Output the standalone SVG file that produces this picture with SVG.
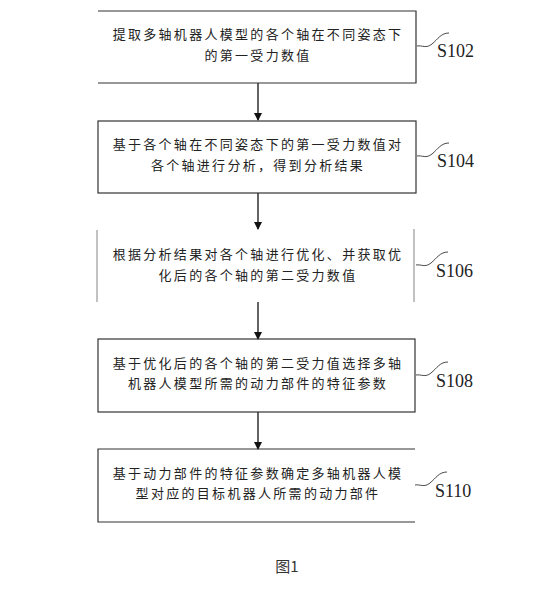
<svg xmlns="http://www.w3.org/2000/svg" width="541" height="609" viewBox="0 0 541 609">
<style>
.b{fill:none;stroke:#333;stroke-width:1.2}
.g{fill:none;stroke:#999;stroke-width:1.2}
.t{font-family:"Noto Sans CJK SC","Noto Sans",sans-serif;font-size:13px;letter-spacing:2.3px;fill:#222;text-anchor:middle}
.l{font-family:"Liberation Serif",serif;font-size:18px;fill:#222}
.w{fill:none;stroke:#333;stroke-width:0.9}
.c{stroke:#111;stroke-width:1.3;fill:none}
</style>
<defs>
<marker id="ah" markerWidth="8" markerHeight="9" refX="7" refY="4.5" orient="auto" markerUnits="userSpaceOnUse">
<path d="M0,0.5 L8,4.5 L0,8.5 Z" fill="#111"/>
</marker>
</defs>
<rect width="541" height="609" fill="#fff"/>
<g id="connectors">
<line class="c" x1="258" y1="83" x2="258" y2="120" marker-end="url(#ah)"/>
<line class="c" x1="258" y1="193" x2="258" y2="229" marker-end="url(#ah)"/>
<line class="c" x1="258" y1="302" x2="258" y2="339" marker-end="url(#ah)"/>
<line class="c" x1="258" y1="412" x2="258" y2="449" marker-end="url(#ah)"/>
</g>
<g id="S102">
<path class="b" d="M98,11 H416 V83 H98"/>
<text class="t" x="258" y="39">提取多轴机器人模型的各个轴在不同姿态下</text>
<text class="t" x="258" y="60">的第一受力数值</text>
<path class="w" d="M417,46 c5,-1 9,3 15,-2 s9,-11 17,-11"/>
<text class="l" x="437" y="57">S102</text>
</g>
<g id="S104">
<rect class="b" x="98" y="121" width="318" height="72"/>
<text class="t" x="258" y="149">基于各个轴在不同姿态下的第一受力数值对</text>
<text class="t" x="258" y="170">各个轴进行分析，得到分析结果</text>
<path class="w" d="M417,156 c5,-1 9,3 15,-2 s9,-11 17,-11"/>
<text class="l" x="437" y="167">S104</text>
</g>
<g id="S106">
<path class="g" d="M97,230 V302 M414,229 V302"/>
<text class="t" x="258" y="259">根据分析结果对各个轴进行优化、并获取优</text>
<text class="t" x="258" y="280">化后的各个轴的第二受力数值</text>
<path class="w" d="M416,265 c5,-1 9,3 15,-2 s9,-11 17,-11"/>
<text class="l" x="436" y="277">S106</text>
</g>
<g id="S108">
<rect class="b" x="98" y="339" width="317" height="73"/>
<text class="t" x="258" y="368">基于优化后的各个轴的第二受力值选择多轴</text>
<text class="t" x="258" y="388">机器人模型所需的动力部件的特征参数</text>
<path class="w" d="M416,375 c5,-1 9,3 15,-2 s9,-11 17,-11"/>
<text class="l" x="436" y="387">S108</text>
</g>
<g id="S110">
<path class="b" d="M415,449 H98 V522 H415"/>
<text class="t" x="258" y="478">基于动力部件的特征参数确定多轴机器人模</text>
<text class="t" x="258" y="498">型对应的目标机器人所需的动力部件</text>
<path class="w" d="M415,485 c5,-1 9,3 15,-2 s9,-11 17,-11"/>
<text class="l" x="435" y="497">S110</text>
</g>
<text x="287" y="572" font-family="Noto Sans CJK SC,sans-serif" font-size="15" fill="#333" text-anchor="middle">图1</text>
</svg>
